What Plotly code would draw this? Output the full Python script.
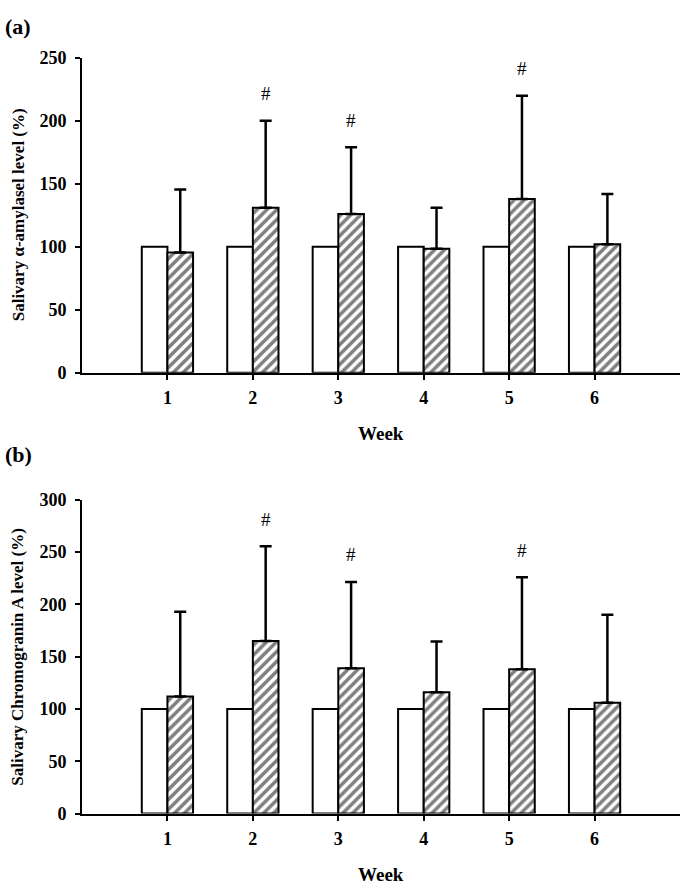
import plotly.graph_objects as go

weeks = [1, 2, 3, 4, 5, 6]
week_labels = ["1", "2", "3", "4", "5", "6"]

# Panel (a): salivary alpha-amylase
amy_control = [100, 100, 100, 100, 100, 100]
amy_treat = [95.5, 131, 126, 98.5, 138, 102]
amy_sd = [50, 69, 53, 32.5, 82, 40]
amy_sig = [False, True, True, False, True, False]

# Panel (b): salivary chromogranin A
cga_control = [100, 100, 100, 100, 100, 100]
cga_treat = [112, 165, 139, 116, 138, 106]
cga_sd = [81, 90.5, 82.5, 48.5, 88, 84]
cga_sig = [False, True, True, False, True, False]

FONT = "Liberation Serif, Times New Roman, serif"
W, H = 685, 893
x0, x1 = 82, 680
panels = [
    dict(top=49, bottom=371, control=amy_control, treat=amy_treat, sd=amy_sd, sig=amy_sig,
         ymax=250, dtick=50, label="(a)", label_y=17,
         ytitle="Salivary α-amylasel level (%)", week_y=433),
    dict(top=501, bottom=822, control=cga_control, treat=cga_treat, sd=cga_sd, sig=cga_sig,
         ymax=300, dtick=50, label="(b)", label_y=455,
         ytitle="Salivary Chromogranin A level (%)", week_y=884),
]

fig = go.Figure()
annotations = []
layout_axes = {}
for i, p in enumerate(panels):
    n = "" if i == 0 else str(i + 1)
    xa, ya = "x" + n, "y" + n
    fig.add_trace(go.Bar(
        x=weeks, y=p["control"], xaxis=xa, yaxis=ya, width=0.3, offset=-0.3,
        marker=dict(color="white", line=dict(color="black", width=2)),
        showlegend=False, hoverinfo="y"))
    fig.add_trace(go.Bar(
        x=weeks, y=p["treat"], xaxis=xa, yaxis=ya, width=0.3, offset=0.0,
        marker=dict(color="white", line=dict(color="black", width=2),
                    pattern=dict(shape="/", fgcolor="black", bgcolor="white", size=7, solidity=0.5)),
        error_y=dict(type="data", symmetric=False, array=p["sd"], arrayminus=[0] * len(weeks),
                     color="black", thickness=2.5, width=6),
        showlegend=False, hoverinfo="y"))
    for w, t, s, sig in zip(weeks, p["treat"], p["sd"], p["sig"]):
        if sig:
            annotations.append(dict(x=w + 0.15, y=t + s, xref=xa, yref=ya, text="#",
                                    showarrow=False, yshift=27,
                                    font=dict(family=FONT, size=19, color="black")))
    dom_y = [1 - p["bottom"] / H, 1 - p["top"] / H]
    dom_x = [x0 / W, x1 / W]
    layout_axes["xaxis" + n] = dict(
        domain=dom_x, range=[0, 7], tickvals=weeks, ticktext=week_labels,
        showline=True, linecolor="black", linewidth=2, ticks="outside", ticklen=5,
        tickwidth=2, tickcolor="black", showgrid=False, zeroline=False,
        anchor=ya, fixedrange=True,
        tickfont=dict(family=FONT, size=18, color="black", weight="bold"),
        ticklabelstandoff=3)
    layout_axes["yaxis" + n] = dict(
        domain=dom_y, range=[0, p["ymax"]], dtick=p["dtick"], tick0=0,
        showline=True, linecolor="black", linewidth=2, ticks="outside", ticklen=5,
        tickwidth=2, tickcolor="black", showgrid=False, zeroline=False,
        anchor=xa, fixedrange=True,
        tickfont=dict(family=FONT, size=18, color="black", weight="bold"),
        ticklabelstandoff=5)
    annotations.append(dict(x=3 / W, y=1 - p["label_y"] / H, xref="paper", yref="paper",
                            text="<b>" + p["label"] + "</b>", showarrow=False,
                            xanchor="left", yanchor="middle",
                            font=dict(family=FONT, size=22, color="black")))
    annotations.append(dict(x=18 / W, y=1 - (p["top"] + p["bottom"]) / 2 / H,
                            xref="paper", yref="paper", text="<b>" + p["ytitle"] + "</b>",
                            textangle=-90, showarrow=False, xanchor="center", yanchor="middle",
                            font=dict(family=FONT, size=17, color="black")))
    annotations.append(dict(x=(x0 + x1) / 2 / W, y=1 - p["week_y"] / H,
                            xref="paper", yref="paper", text="<b>Week</b>",
                            showarrow=False, xanchor="center", yanchor="middle",
                            font=dict(family=FONT, size=19, color="black")))

fig.update_layout(
    width=W, height=H, margin=dict(l=0, r=0, t=0, b=0), barmode="overlay",
    paper_bgcolor="white", plot_bgcolor="white",
    annotations=annotations, **layout_axes)

fig.write_html("out.html", config={"displayModeBar": False},
               post_script="document.body.style.margin='0';document.body.style.overflow='hidden';")
